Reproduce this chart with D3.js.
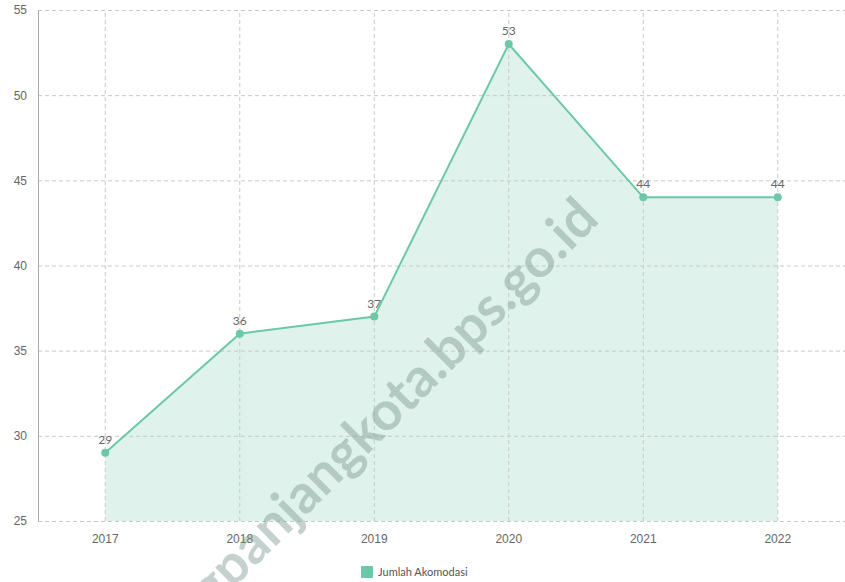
<!DOCTYPE html>
<html>
<head>
<meta charset="utf-8">
<script src="https://cdn.jsdelivr.net/npm/d3@7"></script>
<style>
  body { margin: 0; background: #fff; }
  svg { display: block; font-family: Lato, "Open Sans", sans-serif; }
</style>
</head>
<body>
<svg width="845" height="582"></svg>
<script>
var years = ['2017', '2018', '2019', '2020', '2021', '2022'];
var jumlahAkomodasi = [29, 36, 37, 53, 44, 44];
var yTicks = [25, 30, 35, 40, 45, 50, 55];
var seriesName = 'Jumlah Akomodasi';

var svg = d3.select('svg');
var margin = {left: 38, top: 10, right: 0, bottom: 61};
var width = 845 - margin.left - margin.right,
    height = 582 - margin.top - margin.bottom;

var data = years.map(function (d, i) {
    return {year: d, value: jumlahAkomodasi[i]};
});

var x = d3.scaleBand().domain(years).range([0, width]);
var y = d3.scaleLinear().domain([25, 55]).range([height, 0]);

var g = svg.append('g')
    .attr('transform', 'translate(' + margin.left + ',' + margin.top + ')');

function cx(d) { return x(d.year) + x.bandwidth() / 2; }

// area first, grid drawn over it
g.append('path')
    .datum(data)
    .attr('fill', '#dff3ec')
    .attr('d', d3.area().x(cx).y0(height).y1(function (d) { return y(d.value); }));

// horizontal grid
g.append('g')
    .call(d3.axisLeft(y).tickValues(yTicks).tickSize(-width).tickFormat(''))
    .call(function (s) {
        s.select('.domain').remove();
        s.selectAll('line').attr('stroke', '#c8c8c8').attr('stroke-dasharray', '4,3');
    });

// vertical grid
g.append('g')
    .attr('transform', 'translate(0,' + height + ')')
    .call(d3.axisBottom(x).tickSize(-height).tickFormat(''))
    .call(function (s) {
        s.select('.domain').remove();
        s.selectAll('line').attr('stroke', '#c8c8c8').attr('stroke-dasharray', '4,3');
    });

// y labels
g.append('g')
    .call(d3.axisLeft(y).tickValues(yTicks).tickSize(0).tickPadding(11))
    .call(function (s) {
        s.select('.domain').attr('stroke', '#aaa');
        s.selectAll('text').attr('fill', '#666').style('font-size', '12px');
    });

// x labels
g.append('g')
    .attr('transform', 'translate(0,' + height + ')')
    .call(d3.axisBottom(x).tickSize(0).tickPadding(13))
    .call(function (s) {
        s.select('.domain').remove();
        s.selectAll('text').attr('fill', '#666').style('font-size', '12px');
    });

// watermark
svg.append('text')
    .attr('transform', 'translate(601,221) rotate(-45)')
    .attr('text-anchor', 'end')
    .attr('fill', '#7f9892')
    .attr('fill-opacity', 0.45)
    .style('font-size', '54px')
    .style('font-weight', 'bold')
    .text('padangpanjangkota.bps.go.id');

g.append('path')
    .datum(data)
    .attr('fill', 'none')
    .attr('stroke', '#6cc8a6')
    .attr('stroke-width', 2)
    .attr('d', d3.line().x(cx).y(function (d) { return y(d.value); }));

g.selectAll('circle')
    .data(data)
    .join('circle')
    .attr('cx', cx)
    .attr('cy', function (d) { return y(d.value); })
    .attr('r', 4)
    .attr('fill', '#6cc8a6');

g.selectAll('.lbl')
    .data(data)
    .join('text')
    .attr('class', 'lbl')
    .attr('x', cx)
    .attr('y', function (d) { return y(d.value) - 9; })
    .attr('text-anchor', 'middle')
    .attr('fill', '#666')
    .style('font-size', '12px')
    .text(function (d) { return d.value; });

// legend
var leg = svg.append('g').attr('transform', 'translate(361,566)');
leg.append('rect').attr('width', 12).attr('height', 12).attr('rx', 1).attr('fill', '#6cc8a6');
leg.append('text').attr('x', 17).attr('y', 10).attr('fill', '#555')
    .style('font-size', '11px').text(seriesName);
</script>
</body>
</html>
